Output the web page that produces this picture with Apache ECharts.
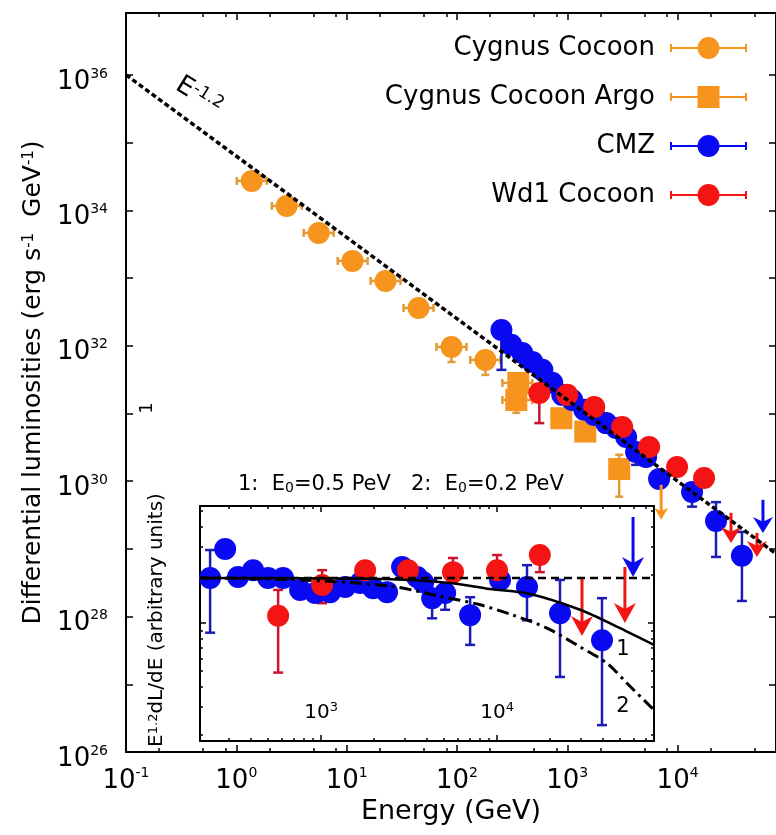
<!DOCTYPE html>
<html>
<head>
<meta charset="utf-8">
<script src="https://cdn.jsdelivr.net/npm/echarts@6/dist/echarts.min.js"></script>
<style>
  html, body { margin: 0; padding: 0; background: #fff; }
  #chart { width: 776px; height: 835px; }
</style>
</head>
<body>
<div id="chart"></div>
<script>
// ---- data (energies in GeV, luminosities in erg s^-1 GeV^-1) ----
const cygE = [1.38, 2.86, 5.58, 11.3, 22.5, 44.9, 89.2, 181];
const cygL = [2.72e34, 1.16e34, 4.63e33, 1.79e33, 9.06e32, 3.61e32, 9.6e31, 6.17e31];
const cygElo = [1.01, 2.10, 4.08, 8.30, 16.5, 32.8, 65.2, 132];
const cygEhi = [1.89, 3.92, 7.63, 15.5, 30.8, 61.3, 122, 248];
const cygLlo = [null, null, null, null, null, null, 5.75e31, 3.7e31];
const cygLhi = [null, null, null, null, null, null, 1.05e32, 6.6e31];

const argoE = [360, 345, 883, 1456, 2957];
const argoL = [2.82e31, 1.58e31, 8.5e30, 5.4e30, 1.51e30];
const argoElo = [258, 258, null, null, null];
const argoEhi = [482, 482, null, null, null];
const argoLlo = [null, 1.02e31, null, null, 5.9e29];
const argoLhi = [null, null, null, null, 2.45e30];
const argoLimE = [7100];
const argoLimTop = [8.8e29];
const argoLimTip = [2.7e29];

const cmzE = [253, 311, 391, 482, 594, 731, 901, 1109, 1425, 1754, 2253, 2774, 3417, 4206, 5183, 6802, 13530, 22300, 38300];
const cmzL = [1.71e32, 1.03e32, 7.8e31, 5.77e31, 4.4e31, 2.83e31, 1.88e31, 1.58e31, 1.13e31, 9.5e30, 7.2e30, 6.1e30, 4.5e30, 2.7e30, 2.28e30, 1.08e30, 6.9e29, 2.58e29, 7.9e28];
const cmzLlo = [4.4e31, null, null, null, null, null, null, null, null, null, null, null, null, 1.74e30, null, null, 4.2e29, 7.6e28, 1.7e28];
const cmzLhi = [null, null, null, null, null, null, null, null, null, null, null, null, null, null, null, null, null, 4.9e29, 1.78e29];
const cmzLimE = [59400];
const cmzLimTop = [5.3e29];
const cmzLimTip = [1.72e29];

const wd1E = [558, 1000, 1754, 3148, 5520, 9890, 17380];
const wd1L = [2.01e31, 1.88e31, 1.25e31, 6.3e30, 3.2e30, 1.62e30, 1.11e30];
const wd1Llo = [7.2e30, null, null, null, null, null, null];
const wd1Lhi = [null, null, null, null, null, null, null];
const wd1LimE = [30500, 52400];
const wd1LimTop = [3.4e29, 1.72e29];
const wd1LimTip = [1.22e29, 7.6e28];

const powE = [0.1, 78000];
const powL = [1e36, 8.5e28];

// inset: E^1.2 dL/dE, arbitrary units
const inCmzE = [234, 285, 337, 411, 500, 608, 760, 925, 1125, 1370, 1667, 1974, 2370, 2886, 3510, 3800, 4276, 5070, 7030, 10400, 14800, 22800, 39500];
const inCmzV = [1.91, 2.90, 1.94, 2.14, 1.91, 1.91, 1.61, 1.54, 1.56, 1.68, 1.78, 1.65, 1.56, 2.24, 1.94, 1.80, 1.43, 1.54, 1.12, 1.86, 1.68, 1.15, 0.78];
const inCmzLo = [0.87, null, null, null, null, null, null, null, null, null, null, null, null, null, null, null, 1.07, 1.21, 0.73, null, 1.04, 0.46, 0.23];
const inCmzHi = [2.86, null, null, null, null, null, null, null, null, null, null, null, null, null, null, null, 1.86, null, 1.45, null, 2.30, 1.86, 1.43];
const inCmzLimE = [59300];
const inCmzLimTop = [4.6];
const inCmzLimTip = [1.94];

const inWdE = [570, 1014, 1780, 3120, 5620, 10000, 17500];
const inWdV = [1.11, 1.73, 2.14, 2.14, 2.08, 2.14, 2.66];
const inWdLo = [0.49, 1.33, null, null, 1.80, 1.80, 2.08];
const inWdHi = [1.61, 2.14, null, 2.40, 2.55, 2.66, null];
const inWdLimE = [30400, 53300];
const inWdLimTop = [1.91, 2.24];
const inWdLimTip = [0.83, 1.0];

const flatE = [205, 78000];
const flatV = [1.91, 1.91];
const cut1E = [205, 2466, 5400, 9120, 15400, 29650, 50000, 78000];
const cut1V = [1.91, 1.88, 1.78, 1.63, 1.52, 1.21, 0.93, 0.73];
const cut2E = [205, 760, 2466, 4740, 8000, 12330, 19200, 29600, 42200, 54800, 76900];
const cut2V = [1.91, 1.86, 1.70, 1.47, 1.30, 1.12, 0.93, 0.71, 0.56, 0.42, 0.29];

// ticks
const mainXMajor = [0.1, 1, 10, 100, 1000, 10000];
const mainXMinor = [0.2, 0.5, 0.8, 2, 5, 8, 20, 50, 80, 200, 500, 800, 2000, 5000, 8000, 20000, 50000];
const mainYTicks = [1e26, 1e27, 1e28, 1e29, 1e30, 1e31, 1e32, 1e33, 1e34, 1e35, 1e36];
const mainYLabels = [1e26, 1e28, 1e30, 1e32, 1e34, 1e36];
const inXMajor = [1000, 10000];
const inXMinor = [300, 400, 500, 600, 700, 800, 900, 2000, 3000, 4000, 5000, 6000, 7000, 8000, 9000, 20000, 30000, 40000, 50000, 60000, 70000];
const inYMajor = [1];
const inYMinor = [0.2, 0.3, 0.4, 0.5, 0.6, 0.7, 0.8, 0.9, 2, 3, 4, 5];

const FONT = 'DejaVu Sans';
const ORANGE = '#f7941d', ORANGE_BAR = '#e29a38';
const BLUE = '#0a0af2', BLUE_BAR = '#1c1cb4';
const RED = '#f41414', RED_BAR = '#cc1430';

const chart = echarts.init(document.getElementById('chart'));

function powLabel(v) {
  return '{b|10}{s|' + Math.round(Math.log10(v)) + '}';
}
const tickRich = {
  b: { fontFamily: FONT, fontSize: 26, color: '#000', lineHeight: 30 },
  s: { fontFamily: FONT, fontSize: 14, color: '#000', verticalAlign: 'top', lineHeight: 14 }
};

function axis(grid, pos, min, max, ticks, len, extra) {
  return Object.assign({
    type: 'log', logBase: 10, gridIndex: grid, position: pos, min: min, max: max,
    splitLine: { show: false },
    axisLine: { show: true, lineStyle: { color: '#000', width: 2 } },
    axisTick: { show: true, inside: true, length: len, customValues: ticks, lineStyle: { color: '#000', width: 1.5 } },
    axisLabel: { show: false }
  }, extra || {});
}

const MX = [0.1, 78000], MY = [1e26, 8.2e36];
const IX = [205, 78000], IY = [0.183, 5.39];

function errorBars(name, xi, yi, ex, ey, exLo, exHi, eyLo, eyHi, color, cap) {
  return {
    name: name, type: 'custom', xAxisIndex: xi, yAxisIndex: yi, z: 2, silent: true, clip: true,
    data: ex.map((e, i) => [e, ey[i]]),
    renderItem: function (params, api) {
      const i = params.dataIndex;
      const kids = [];
      const seg = (x1, y1, x2, y2) => kids.push({ type: 'line', shape: { x1, y1, x2, y2 }, style: { stroke: color, lineWidth: 2.5 } });
      if (exLo && exLo[i] != null) {
        const a = api.coord([exLo[i], ey[i]]), b = api.coord([exHi[i], ey[i]]);
        seg(a[0], a[1], b[0], b[1]);
        seg(a[0], a[1] - cap, a[0], a[1] + cap);
        seg(b[0], b[1] - cap, b[0], b[1] + cap);
      }
      const c = api.coord([ex[i], ey[i]]);
      if (eyLo && eyLo[i] != null) {
        const a = api.coord([ex[i], eyLo[i]]);
        seg(c[0], c[1], a[0], a[1]);
        seg(a[0] - cap, a[1], a[0] + cap, a[1]);
      }
      if (eyHi && eyHi[i] != null) {
        const a = api.coord([ex[i], eyHi[i]]);
        seg(c[0], c[1], a[0], a[1]);
        seg(a[0] - cap, a[1], a[0] + cap, a[1]);
      }
      return { type: 'group', children: kids };
    }
  };
}

function limits(name, xi, yi, ex, top, tip, color, w, h, lw) {
  return {
    name: name, type: 'custom', xAxisIndex: xi, yAxisIndex: yi, z: 4, silent: true, clip: false,
    data: ex.map((e, i) => [e, top[i]]),
    renderItem: function (params, api) {
      const i = params.dataIndex;
      const a = api.coord([ex[i], top[i]]), b = api.coord([ex[i], tip[i]]);
      return { type: 'group', children: [
        { type: 'line', shape: { x1: a[0], y1: a[1], x2: b[0], y2: b[1] - h * 0.5 }, style: { stroke: color, lineWidth: lw } },
        { type: 'polygon', shape: { points: [[b[0], b[1]], [b[0] - w / 2, b[1] - h], [b[0], b[1] - h * 0.7], [b[0] + w / 2, b[1] - h]] }, style: { fill: color } }
      ] };
    }
  };
}

function points(name, xi, yi, ex, ey, color, symbol) {
  return {
    name: name, type: 'scatter', xAxisIndex: xi, yAxisIndex: yi, z: 3,
    symbol: symbol || 'circle', symbolSize: 22,
    itemStyle: { color: color, opacity: 1 },
    data: ex.map((e, i) => [e, ey[i]])
  };
}

function curve(name, xi, yi, ex, ey, type, width, smooth) {
  return {
    name: name, type: 'line', xAxisIndex: xi, yAxisIndex: yi, z: 5, silent: true,
    showSymbol: false, smooth: smooth || false,
    lineStyle: { color: '#000', width: width, type: type },
    data: ex.map((e, i) => [e, ey[i]])
  };
}

const circleIcon = 'path://M0 10h77v2H0z M0 7h2v8H0z M75 7h2v8h-2z M27.5 11a11 11 0 1 1 22 0a11 11 0 1 1 -22 0z';
const squareIcon = 'path://M0 10h77v2H0z M0 7h2v8H0z M75 7h2v8h-2z M27.5 0h22v22h-22z';

const option = {
  animation: false,
  backgroundColor: '#fff',
  grid: [
    { left: 126, top: 13, width: 651, height: 739 },
    { left: 200, top: 506, width: 454, height: 235, show: true, backgroundColor: '#fff', borderWidth: 0 }
  ],
  legend: {
    orient: 'vertical', right: 24, top: 30, align: 'right', selectedMode: false,
    itemWidth: 77, itemHeight: 22, itemGap: 23,
    textStyle: { fontFamily: FONT, fontSize: 26, color: '#000', padding: [0, 10, 0, 0] },
    data: [
      { name: 'Cygnus Cocoon', icon: circleIcon },
      { name: 'Cygnus Cocoon Argo', icon: squareIcon },
      { name: 'CMZ', icon: circleIcon },
      { name: 'Wd1 Cocoon', icon: circleIcon }
    ]
  },
  xAxis: [
    axis(0, 'bottom', MX[0], MX[1], mainXMajor, 7, {
      axisLabel: { show: true, customValues: mainXMajor, margin: 14, formatter: powLabel, rich: tickRich },
      name: 'Energy (GeV)', nameLocation: 'middle', nameGap: 46,
      nameTextStyle: { fontFamily: FONT, fontSize: 27, color: '#000' }
    }),
    axis(0, 'bottom', MX[0], MX[1], mainXMinor, 4, { axisLine: { show: false } }),
    axis(0, 'top', MX[0], MX[1], mainXMajor, 7),
    axis(0, 'top', MX[0], MX[1], mainXMinor, 4, { axisLine: { show: false } }),
    axis(1, 'bottom', IX[0], IX[1], inXMajor, 6, {
      axisLabel: { show: true, inside: true, customValues: inXMajor, margin: 16, formatter: powLabel,
        rich: { b: { fontFamily: FONT, fontSize: 20, color: '#000', lineHeight: 24 }, s: { fontFamily: FONT, fontSize: 13, color: '#000', verticalAlign: 'top', lineHeight: 12 } } }
    }),
    axis(1, 'bottom', IX[0], IX[1], inXMinor, 3, { axisLine: { show: false } }),
    axis(1, 'top', IX[0], IX[1], inXMajor, 6),
    axis(1, 'top', IX[0], IX[1], inXMinor, 3, { axisLine: { show: false } })
  ],
  yAxis: [
    axis(0, 'left', MY[0], MY[1], mainYTicks, 7, {
      axisLabel: { show: true, customValues: mainYLabels, margin: 18, padding: [14, 0, 0, 0], formatter: powLabel, rich: tickRich },
      name: 'Differential luminosities (erg s{s|-1}  GeV{s|-1})', nameLocation: 'middle', nameGap: 78, nameRotate: 90,
      nameTextStyle: { fontFamily: FONT, fontSize: 25, color: '#000',
        rich: { s: { fontFamily: FONT, fontSize: 15, color: '#000', verticalAlign: 'top', lineHeight: 14 } } }
    }),
    axis(0, 'right', MY[0], MY[1], mainYTicks, 7),
    axis(1, 'left', IY[0], IY[1], inYMajor, 6),
    axis(1, 'left', IY[0], IY[1], inYMinor, 3, { axisLine: { show: false } }),
    axis(1, 'right', IY[0], IY[1], inYMajor, 6),
    axis(1, 'right', IY[0], IY[1], inYMinor, 3, { axisLine: { show: false } })
  ],
  series: [
    errorBars('cyg-err', 0, 0, cygE, cygL, cygElo, cygEhi, cygLlo, cygLhi, ORANGE_BAR, 4),
    points('Cygnus Cocoon', 0, 0, cygE, cygL, ORANGE),
    errorBars('argo-err', 0, 0, argoE, argoL, argoElo, argoEhi, argoLlo, argoLhi, ORANGE_BAR, 4),
    points('Cygnus Cocoon Argo', 0, 0, argoE, argoL, ORANGE, 'rect'),
    limits('argo-lim', 0, 0, argoLimE, argoLimTop, argoLimTip, ORANGE, 14, 12, 3),
    errorBars('cmz-err', 0, 0, cmzE, cmzL, null, null, cmzLlo, cmzLhi, BLUE_BAR, 5),
    points('CMZ', 0, 0, cmzE, cmzL, BLUE),
    limits('cmz-lim', 0, 0, cmzLimE, cmzLimTop, cmzLimTip, BLUE, 20, 16, 3),
    errorBars('wd1-err', 0, 0, wd1E, wd1L, null, null, wd1Llo, wd1Lhi, RED_BAR, 5),
    points('Wd1 Cocoon', 0, 0, wd1E, wd1L, RED),
    limits('wd1-lim', 0, 0, wd1LimE, wd1LimTop, wd1LimTip, RED, 20, 16, 3),
    curve('E^-1.2', 0, 0, powE, powL, [5, 3], 3.5),

    errorBars('in-cmz-err', 4, 2, inCmzE, inCmzV, null, null, inCmzLo, inCmzHi, BLUE_BAR, 5),
    points('CMZ inset', 4, 2, inCmzE, inCmzV, BLUE),
    limits('in-cmz-lim', 4, 2, inCmzLimE, inCmzLimTop, inCmzLimTip, BLUE, 22, 20, 3),
    errorBars('in-wd1-err', 4, 2, inWdE, inWdV, null, null, inWdLo, inWdHi, RED_BAR, 5),
    points('Wd1 inset', 4, 2, inWdE, inWdV, RED),
    limits('in-wd1-lim', 4, 2, inWdLimE, inWdLimTop, inWdLimTip, RED, 22, 20, 3),
    curve('flat', 4, 2, flatE, flatV, [8, 5], 2.5),
    curve('E0=0.5 PeV', 4, 2, cut1E, cut1V, 'solid', 2.5, 0.3),
    curve('E0=0.2 PeV', 4, 2, cut2E, cut2V, [12, 5, 3, 5], 3, 0.3)
  ],
  graphic: [
    { type: 'text', x: 199, y: 96, rotation: -0.55, z: 10,
      style: { text: 'E{s|-1.2}', fontFamily: FONT, fontSize: 26, fill: '#000', align: 'center', verticalAlign: 'middle',
        rich: { s: { fontFamily: FONT, fontSize: 17, fill: '#000', verticalAlign: 'top', lineHeight: 15 } } } },
    { type: 'text', x: 147, y: 408, rotation: Math.PI / 2, z: 10,
      style: { text: '1', fontFamily: FONT, fontSize: 18, fill: '#000', align: 'center', verticalAlign: 'middle' } },
    { type: 'text', x: 157, y: 620, rotation: Math.PI / 2, z: 10,
      style: { text: 'E{s|1.2}dL/dE (arbitrary units)', fontFamily: FONT, fontSize: 20, fill: '#000', align: 'center', verticalAlign: 'middle',
        rich: { s: { fontFamily: FONT, fontSize: 13, fill: '#000', verticalAlign: 'top', lineHeight: 12 } } } },
    { type: 'text', x: 238, y: 485, z: 10,
      style: { text: '1:  E{u|0}=0.5 PeV', fontFamily: FONT, fontSize: 21, fill: '#000', align: 'left', verticalAlign: 'middle',
        rich: { u: { fontFamily: FONT, fontSize: 14, fill: '#000', verticalAlign: 'bottom', lineHeight: 12 } } } },
    { type: 'text', x: 411, y: 485, z: 10,
      style: { text: '2:  E{u|0}=0.2 PeV', fontFamily: FONT, fontSize: 21, fill: '#000', align: 'left', verticalAlign: 'middle',
        rich: { u: { fontFamily: FONT, fontSize: 14, fill: '#000', verticalAlign: 'bottom', lineHeight: 12 } } } },
    { type: 'text', x: 623, y: 650, z: 10,
      style: { text: '1', fontFamily: FONT, fontSize: 21, fill: '#000', align: 'center', verticalAlign: 'middle' } },
    { type: 'text', x: 623, y: 707, z: 10,
      style: { text: '2', fontFamily: FONT, fontSize: 21, fill: '#000', align: 'center', verticalAlign: 'middle' } }
  ]
};

chart.setOption(option);
</script>
</body>
</html>
